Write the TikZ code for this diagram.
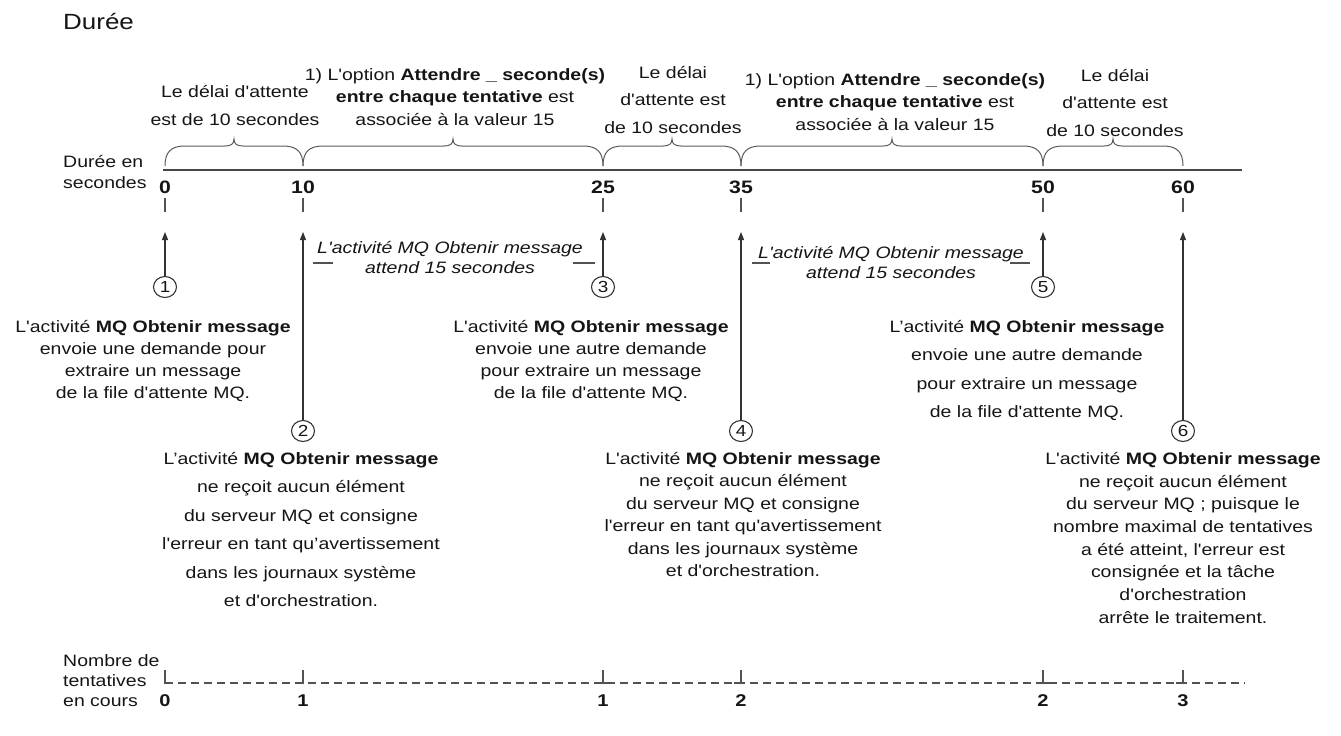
\documentclass[tikz,border=0pt]{standalone}
\usepackage{fontspec}
\setmainfont{Liberation Sans}[FakeStretch=1.18, Ligatures=TeXOff]
\usetikzlibrary{positioning,arrows.meta,shapes.geometric}

\definecolor{ink}{HTML}{151515}
\definecolor{rule}{HTML}{333333}

\begin{document}
\begin{tikzpicture}[x=1pt,y=-1pt,
  txt/.style={text=ink, inner sep=0pt, align=center, font=\fontsize{16.5}{22}\selectfont},
  lbl/.style={txt, anchor=north},
  num/.style={text=ink, inner sep=0pt, anchor=base, font=\fontsize{18}{18}\selectfont\bfseries},
  badge/.style={ellipse, draw=rule, line width=1.1pt, minimum width=23pt, minimum height=21pt,
    inner sep=0pt, text=ink, font=\fontsize{16}{16}\selectfont},
  pointer/.style={draw=rule, line width=1.1pt, -{Triangle[length=8pt,width=6pt]}},
  axisline/.style={draw=rule!90, line width=2.2pt},
  notch/.style={draw=rule!85, line width=1.4pt},
  curly/.style={draw=rule!80, line width=1pt},
  tries/.style={draw=rule!85, line width=1.6pt}
  ]
  \useasboundingbox (0,0) rectangle (1341,736);

  \node[txt, anchor=base west, font=\fontsize{22}{22}\selectfont] (title) at (63,29) {Durée};

  % time axis
  \node[txt, anchor=north west, align=left, font=\fontsize{16.5}{21}\selectfont] (axlabel) at (63,155) {Durée en\\secondes};
  \coordinate (axstart) at (163,170);
  \coordinate (axend) at (1242,170);
  \draw[axisline] (axstart) -- (axend);
  \foreach \x/\t [count=\i] in {165/0,303/10,603/25,741/35,1043/50,1183/60} {
    \node[num] (s\i) at (\x,193) {\t};
    \draw[notch] (\x,198) -- (\x,212);
  }

  % braces over the intervals
  \foreach \a/\b in {165/303,303/603,603/741,741/1043,1043/1183} {
    \pgfmathsetmacro\m{(\a+\b)/2}
    \draw[curly] (\a,166) .. controls (\a,152) and (\a+6,146) .. (\a+20,146) -- (\m-9,146)
      .. controls (\m-3,146) and (\m,144) .. (\m,139) .. controls (\m,144) and (\m+3,146) .. (\m+9,146)
      -- (\b-20,146) .. controls (\b-6,146) and (\b,152) .. (\b,166);
  }

  \node[lbl, font=\fontsize{16.5}{28}\selectfont] (wait1) at (235,85) {Le délai d'attente\\est de 10 secondes};
  \node[lbl, font=\fontsize{16.5}{22.5}\selectfont] (opt1) at (455,68) {1) L'option \textbf{Attendre \_ seconde(s)}\\\textbf{entre chaque tentative} est\\associée à la valeur 15};
  \node[lbl, font=\fontsize{16.5}{27.5}\selectfont] (wait2) at (673,66) {Le délai\\d'attente est\\de 10 secondes};
  \node[lbl, font=\fontsize{16.5}{22.5}\selectfont] (opt2) at (895,73) {1) L'option \textbf{Attendre \_ seconde(s)}\\\textbf{entre chaque tentative} est\\associée à la valeur 15};
  \node[lbl, font=\fontsize{16.5}{27.5}\selectfont] (wait3) at (1115,69) {Le délai\\d'attente est\\de 10 secondes};

  % pauses between two requests
  \node[lbl, font=\fontsize{16.5}{20.5}\selectfont\itshape] (pause1) at (450,241) {L'activité MQ Obtenir message\\attend 15 secondes};
  \node[lbl, font=\fontsize{16.5}{20.5}\selectfont\itshape] (pause2) at (891,246) {L'activité MQ Obtenir message\\attend 15 secondes};
  \draw[notch, line width=1.2pt] (313,263) -- (333,263);
  \draw[notch, line width=1.2pt] (573,263) -- (595,263);
  \draw[notch, line width=1.2pt] (752,263) -- (770,263);
  \draw[notch, line width=1.2pt] (1010,263) -- (1030,263);

  % steps and their arrows
  \foreach \x/\y/\n in {165/287/1,303/431/2,603/287/3,741/431/4,1043/287/5,1183/431/6} {
    \node[badge] (c\n) at (\x,\y) {\n};
    \coordinate (h\n) at (\x,232);
    \draw[pointer] (c\n) -- (h\n);
  }

  \node[lbl, below=22pt of c1, xshift=-12pt] (b1) {L'activité \textbf{MQ Obtenir message}\\envoie une demande pour\\extraire un message\\de la file d'attente MQ.};
  \node[lbl, below=10pt of c2, xshift=-2pt, font=\fontsize{16.5}{28.5}\selectfont] (b2) {L’activité \textbf{MQ Obtenir message}\\ne reçoit aucun élément\\du serveur MQ et consigne\\l'erreur en tant qu’avertissement\\dans les journaux système\\et d'orchestration.};
  \node[lbl, below=22pt of c3, xshift=-12pt] (b3) {L'activité \textbf{MQ Obtenir message}\\envoie une autre demande\\pour extraire un message\\de la file d'attente MQ.};
  \node[lbl, below=10pt of c4, xshift=2pt, font=\fontsize{16.5}{22.5}\selectfont] (b4) {L'activité \textbf{MQ Obtenir message}\\ne reçoit aucun élément\\du serveur MQ et consigne\\l'erreur en tant qu'avertissement\\dans les journaux système\\et d'orchestration.};
  \node[lbl, below=22pt of c5, xshift=-16pt, font=\fontsize{16.5}{28.5}\selectfont] (b5) {L’activité \textbf{MQ Obtenir message}\\envoie une autre demande\\pour extraire un message\\de la file d'attente MQ.};
  \node[lbl, below=10pt of c6, font=\fontsize{16.5}{22.7}\selectfont] (b6) {L'activité \textbf{MQ Obtenir message}\\ne reçoit aucun élément\\du serveur MQ ; puisque le\\nombre maximal de tentatives\\a été atteint, l'erreur est\\consignée et la tâche\\d'orchestration\\arrête le traitement.};

  % attempt counter
  \node[txt, anchor=north west, align=left, font=\fontsize{16.5}{20}\selectfont] (tlabel) at (63,654) {Nombre de\\tentatives\\en cours};
  \coordinate (ts) at (165,683);
  \coordinate (te) at (1245,683);
  \draw[tries, dash pattern=on 8pt off 5pt] (ts) -- (te);
  \foreach \x/\s/\t [count=\i] in {165/1/0,303/-1/1,603/1/1,741/-1/2,1043/1/2,1183/-1/3} {
    \draw[tries] (\x,670) -- (\x,683) -- ({\x+(\s)*7},683);
    \node[num, font=\fontsize{17}{17}\selectfont\bfseries] (n\i) at (\x,706) {\t};
  }
\end{tikzpicture}
\end{document}
